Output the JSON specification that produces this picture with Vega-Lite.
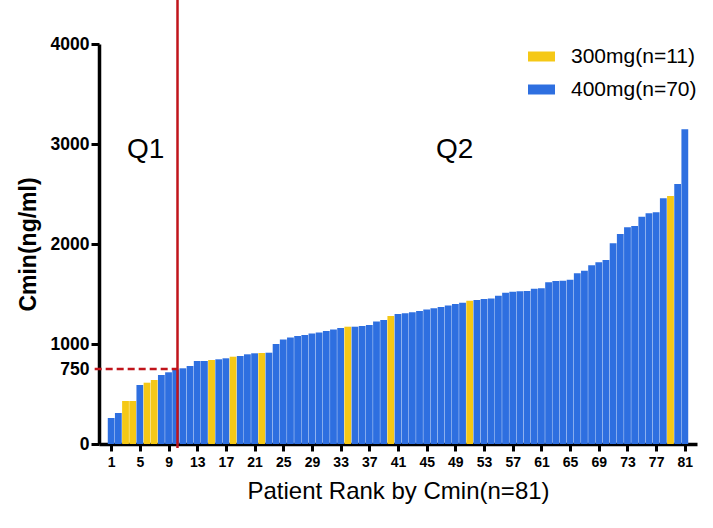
{
  "$schema": "https://vega.github.io/schema/vega-lite/v6.json",
  "autosize": {"type": "none"},
  "padding": {"left": 99, "top": 44, "right": 16, "bottom": 84},
  "width": 598,
  "height": 400,
  "background": "white",
  "config": {
    "view": {"stroke": null},
    "font": "Liberation Sans"
  },
  "datasets": {
    "patients": [
      {"rank": 1, "cmin": 260, "group": "400mg(n=70)"},
      {"rank": 2, "cmin": 310, "group": "400mg(n=70)"},
      {"rank": 3, "cmin": 430, "group": "300mg(n=11)"},
      {"rank": 4, "cmin": 430, "group": "300mg(n=11)"},
      {"rank": 5, "cmin": 590, "group": "400mg(n=70)"},
      {"rank": 6, "cmin": 613, "group": "300mg(n=11)"},
      {"rank": 7, "cmin": 640, "group": "300mg(n=11)"},
      {"rank": 8, "cmin": 690, "group": "400mg(n=70)"},
      {"rank": 9, "cmin": 717, "group": "400mg(n=70)"},
      {"rank": 10, "cmin": 745, "group": "400mg(n=70)"},
      {"rank": 11, "cmin": 757, "group": "400mg(n=70)"},
      {"rank": 12, "cmin": 780, "group": "400mg(n=70)"},
      {"rank": 13, "cmin": 830, "group": "400mg(n=70)"},
      {"rank": 14, "cmin": 830, "group": "400mg(n=70)"},
      {"rank": 15, "cmin": 840, "group": "300mg(n=11)"},
      {"rank": 16, "cmin": 847, "group": "400mg(n=70)"},
      {"rank": 17, "cmin": 857, "group": "400mg(n=70)"},
      {"rank": 18, "cmin": 873, "group": "300mg(n=11)"},
      {"rank": 19, "cmin": 880, "group": "400mg(n=70)"},
      {"rank": 20, "cmin": 897, "group": "400mg(n=70)"},
      {"rank": 21, "cmin": 907, "group": "400mg(n=70)"},
      {"rank": 22, "cmin": 910, "group": "300mg(n=11)"},
      {"rank": 23, "cmin": 913, "group": "400mg(n=70)"},
      {"rank": 24, "cmin": 1000, "group": "400mg(n=70)"},
      {"rank": 25, "cmin": 1045, "group": "400mg(n=70)"},
      {"rank": 26, "cmin": 1065, "group": "400mg(n=70)"},
      {"rank": 27, "cmin": 1080, "group": "400mg(n=70)"},
      {"rank": 28, "cmin": 1090, "group": "400mg(n=70)"},
      {"rank": 29, "cmin": 1105, "group": "400mg(n=70)"},
      {"rank": 30, "cmin": 1115, "group": "400mg(n=70)"},
      {"rank": 31, "cmin": 1130, "group": "400mg(n=70)"},
      {"rank": 32, "cmin": 1145, "group": "400mg(n=70)"},
      {"rank": 33, "cmin": 1160, "group": "400mg(n=70)"},
      {"rank": 34, "cmin": 1173, "group": "300mg(n=11)"},
      {"rank": 35, "cmin": 1173, "group": "400mg(n=70)"},
      {"rank": 36, "cmin": 1180, "group": "400mg(n=70)"},
      {"rank": 37, "cmin": 1190, "group": "400mg(n=70)"},
      {"rank": 38, "cmin": 1225, "group": "400mg(n=70)"},
      {"rank": 39, "cmin": 1240, "group": "400mg(n=70)"},
      {"rank": 40, "cmin": 1280, "group": "300mg(n=11)"},
      {"rank": 41, "cmin": 1300, "group": "400mg(n=70)"},
      {"rank": 42, "cmin": 1307, "group": "400mg(n=70)"},
      {"rank": 43, "cmin": 1317, "group": "400mg(n=70)"},
      {"rank": 44, "cmin": 1330, "group": "400mg(n=70)"},
      {"rank": 45, "cmin": 1345, "group": "400mg(n=70)"},
      {"rank": 46, "cmin": 1357, "group": "400mg(n=70)"},
      {"rank": 47, "cmin": 1370, "group": "400mg(n=70)"},
      {"rank": 48, "cmin": 1385, "group": "400mg(n=70)"},
      {"rank": 49, "cmin": 1400, "group": "400mg(n=70)"},
      {"rank": 50, "cmin": 1413, "group": "400mg(n=70)"},
      {"rank": 51, "cmin": 1433, "group": "300mg(n=11)"},
      {"rank": 52, "cmin": 1440, "group": "400mg(n=70)"},
      {"rank": 53, "cmin": 1450, "group": "400mg(n=70)"},
      {"rank": 54, "cmin": 1455, "group": "400mg(n=70)"},
      {"rank": 55, "cmin": 1483, "group": "400mg(n=70)"},
      {"rank": 56, "cmin": 1513, "group": "400mg(n=70)"},
      {"rank": 57, "cmin": 1523, "group": "400mg(n=70)"},
      {"rank": 58, "cmin": 1527, "group": "400mg(n=70)"},
      {"rank": 59, "cmin": 1530, "group": "400mg(n=70)"},
      {"rank": 60, "cmin": 1553, "group": "400mg(n=70)"},
      {"rank": 61, "cmin": 1557, "group": "400mg(n=70)"},
      {"rank": 62, "cmin": 1617, "group": "400mg(n=70)"},
      {"rank": 63, "cmin": 1630, "group": "400mg(n=70)"},
      {"rank": 64, "cmin": 1633, "group": "400mg(n=70)"},
      {"rank": 65, "cmin": 1643, "group": "400mg(n=70)"},
      {"rank": 66, "cmin": 1707, "group": "400mg(n=70)"},
      {"rank": 67, "cmin": 1733, "group": "400mg(n=70)"},
      {"rank": 68, "cmin": 1787, "group": "400mg(n=70)"},
      {"rank": 69, "cmin": 1817, "group": "400mg(n=70)"},
      {"rank": 70, "cmin": 1840, "group": "400mg(n=70)"},
      {"rank": 71, "cmin": 2007, "group": "400mg(n=70)"},
      {"rank": 72, "cmin": 2100, "group": "400mg(n=70)"},
      {"rank": 73, "cmin": 2167, "group": "400mg(n=70)"},
      {"rank": 74, "cmin": 2180, "group": "400mg(n=70)"},
      {"rank": 75, "cmin": 2273, "group": "400mg(n=70)"},
      {"rank": 76, "cmin": 2307, "group": "400mg(n=70)"},
      {"rank": 77, "cmin": 2317, "group": "400mg(n=70)"},
      {"rank": 78, "cmin": 2457, "group": "400mg(n=70)"},
      {"rank": 79, "cmin": 2480, "group": "300mg(n=11)"},
      {"rank": 80, "cmin": 2600, "group": "400mg(n=70)"},
      {"rank": 81, "cmin": 3147, "group": "400mg(n=70)"}
    ],
    "cutoff": [{"rank": 10.25, "cmin": -40, "cmin_top": 4440}],
    "threshold": [{"rank": -1.3, "rank_end": 10.25, "cmin": 750}],
    "labels": [
      {"rank": 5.8, "cmin": 2940, "label": "Q1"},
      {"rank": 48.9, "cmin": 2940, "label": "Q2"}
    ]
  },
  "encoding": {
    "x": {
      "field": "rank",
      "type": "quantitative",
      "scale": {"domain": [0, 82], "nice": false, "zero": false},
      "axis": {
        "title": "Patient Rank by Cmin(n=81)",
        "titleFontSize": 24,
        "titleFontWeight": "normal",
        "titleColor": "black",
        "titlePadding": 10,
        "values": [1, 5, 9, 13, 17, 21, 25, 29, 33, 37, 41, 45, 49, 53, 57, 61, 65, 69, 73, 77, 81],
        "tickCount": 21,
        "format": "d",
        "labelFontSize": 14,
        "labelFontWeight": "bold",
        "labelColor": "black",
        "labelPadding": 4,
        "labelFlush": false,
        "labelOverlap": false,
        "grid": false,
        "domainColor": "black",
        "domainWidth": 3.5,
        "tickColor": "black",
        "tickWidth": 3,
        "tickSize": 7
      }
    },
    "y": {
      "field": "cmin",
      "type": "quantitative",
      "scale": {"domain": [0, 4000], "nice": false},
      "axis": {
        "title": "Cmin(ng/ml)",
        "titleFontSize": 23,
        "titleFontWeight": "bold",
        "titleColor": "black",
        "titlePadding": 10,
        "values": [0, 750, 1000, 2000, 3000, 4000],
        "format": "d",
        "labelFontSize": 17.5,
        "labelFontWeight": "bold",
        "labelColor": "black",
        "labelPadding": 2,
        "labelFlush": false,
        "labelOverlap": false,
        "grid": false,
        "domainColor": "black",
        "domainWidth": 3.5,
        "tickColor": {"condition": {"test": "datum.value == 750", "value": "transparent"}, "value": "black"},
        "tickWidth": 3,
        "tickSize": 8
      }
    }
  },
  "layer": [
    {
      "data": {"name": "patients"},
      "mark": {"type": "bar", "size": 6.8},
      "encoding": {
        "color": {
          "field": "group",
          "type": "nominal",
          "scale": {
            "domain": ["300mg(n=11)", "400mg(n=70)"],
            "range": ["#f5c816", "#2e6fe0"]
          },
          "legend": {
            "title": null,
            "orient": "none",
            "legendX": 429,
            "legendY": -1,
            "padding": 0,
            "symbolType": "M-1,-0.37H1V0.37H-1Z",
            "symbolSize": 729,
            "symbolStrokeWidth": 0,
            "symbolOpacity": 1,
            "labelFontSize": 21,
            "labelColor": "black",
            "labelOffset": 16,
            "rowPadding": 9
          }
        }
      }
    },
    {
      "data": {"name": "cutoff"},
      "mark": {"type": "rule", "color": "#c0141b", "strokeWidth": 2.5},
      "encoding": {
        "y2": {"field": "cmin_top"}
      }
    },
    {
      "data": {"name": "threshold"},
      "mark": {"type": "rule", "color": "#c0141b", "strokeWidth": 2.5, "strokeDash": [7, 4]},
      "encoding": {
        "x2": {"field": "rank_end"}
      }
    },
    {
      "data": {"name": "labels"},
      "mark": {"type": "text", "fontSize": 28, "color": "black", "align": "center", "baseline": "middle"},
      "encoding": {
        "text": {"field": "label"}
      }
    }
  ]
}
